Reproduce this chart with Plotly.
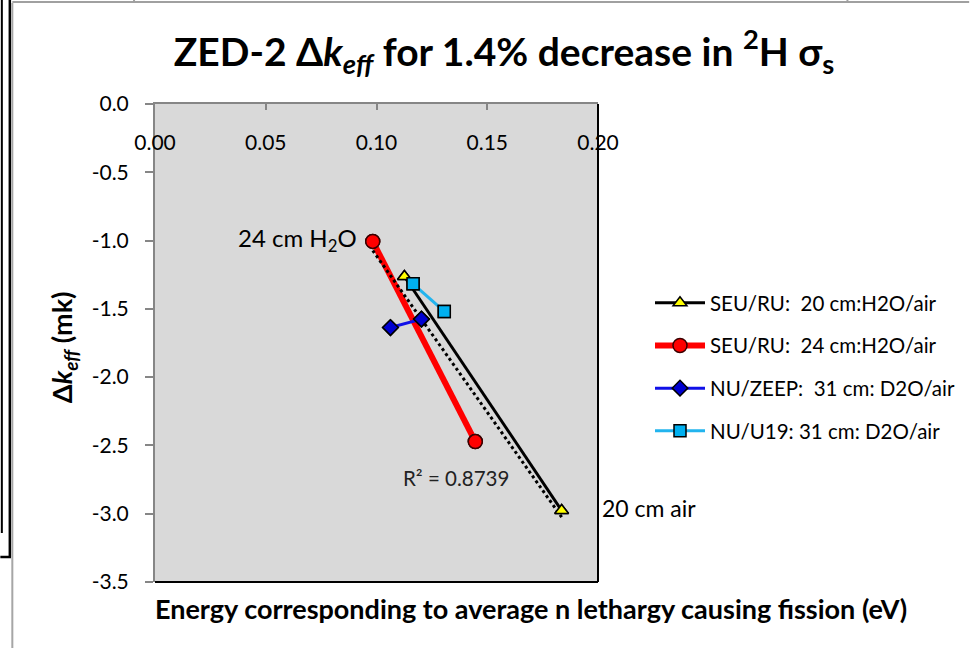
import numpy as np
import plotly.graph_objects as go

# Energy (eV) and delta k_eff (mk) for each core configuration
x_seu20 = [0.1126, 0.1836]
y_seu20 = [-1.263, -2.977]
x_seu24 = [0.0983, 0.1446]
y_seu24 = [-1.006, -2.472]
x_zeep = [0.1063, 0.1203]
y_zeep = [-1.637, -1.575]
x_u19 = [0.1165, 0.1306]
y_u19 = [-1.317, -1.519]

names = [
    "SEU/RU:  20 cm:H2O/air",
    "SEU/RU:  24 cm:H2O/air",
    "NU/ZEEP:  31 cm: D2O/air",
    "NU/U19: 31 cm: D2O/air",
]

x_ticks = [0.00, 0.05, 0.10, 0.15, 0.20]
y_ticks = [0.0, -0.5, -1.0, -1.5, -2.0, -2.5, -3.0, -3.5]
r2_text = "R² = 0.8739"

W, H = 971, 648
ML, MR, MT, MB = 155, 372, 104, 66
PW, PH = W - ML - MR, H - MT - MB


def px(xp):
    return (xp - ML) / PW


def py(yp):
    return (H - MB - yp) / PH


FONT = "Lato, Carlito, 'Open Sans', sans-serif"

fig = go.Figure()

series = [
    (x_seu20, y_seu20, names[0], "black", 3,
     dict(symbol="triangle-up", size=12, color="#FFFF00", line=dict(color="black", width=1.5))),
    (x_seu24, y_seu24, names[1], "#FF0000", 6,
     dict(symbol="circle", size=14, color="#FF0000", line=dict(color="#3a0000", width=1.5))),
    (x_zeep, y_zeep, names[2], "#1010E8", 3,
     dict(symbol="diamond", size=12, color="#0000D0", line=dict(color="black", width=1.5))),
    (x_u19, y_u19, names[3], "#22B4EE", 3,
     dict(symbol="square", size=12, color="#00B0F0", line=dict(color="black", width=1.5))),
]

for i, (xs, ys, nm, col, lw, mk) in enumerate(series):
    fig.add_trace(go.Scatter(
        x=xs, y=ys, name=nm, mode="lines+markers",
        line=dict(color=col, width=lw), marker=mk,
        legendgroup=str(i),
    ))

# Linear trendline through every point
all_x = np.array(x_seu20 + x_seu24 + x_zeep + x_u19)
all_y = np.array(y_seu20 + y_seu24 + y_zeep + y_u19)
slope, intercept = np.polyfit(all_x, all_y, 1)
tx = np.array([all_x.min(), all_x.max()])
fig.add_trace(go.Scatter(
    x=tx, y=slope * tx + intercept, mode="lines",
    line=dict(color="black", width=3, dash="dot"),
    showlegend=False, hoverinfo="skip",
))

# Re-draw the points on top of the trendline
for xs, ys, nm, col, lw, mk in series:
    fig.add_trace(go.Scatter(x=xs, y=ys, mode="markers", marker=mk,
                             showlegend=False, hoverinfo="skip"))

annotations = [
    dict(x=x_seu24[0], y=y_seu24[0], xref="x", yref="y", text="24 cm H<sub>2</sub>O",
         showarrow=False, xanchor="right", yanchor="middle", xshift=-14, yshift=2,
         font=dict(size=24, color="black", family=FONT)),
    dict(x=x_seu20[1], y=y_seu20[1], xref="x", yref="y", text="20 cm air",
         showarrow=False, xanchor="left", yanchor="middle", xshift=38, yshift=3,
         font=dict(size=23, color="black", family=FONT)),
    dict(x=px(457), y=py(478), xref="paper", yref="paper", text=r2_text,
         showarrow=False, xanchor="center", yanchor="middle",
         font=dict(size=20.5, color="#222", family=FONT)),
    dict(x=px(532), y=py(608), xref="paper", yref="paper",
         text="<b>Energy corresponding to average n lethargy causing fission (eV)</b>",
         showarrow=False, xanchor="center", yanchor="middle",
         font=dict(size=27, color="black", family=FONT)),
    dict(x=px(63), y=py(347), xref="paper", yref="paper",
         text="<b>Δ<i>k<sub>eff</sub></i> (mk)</b>", textangle=-90,
         showarrow=False, xanchor="center", yanchor="middle",
         font=dict(size=27, color="black", family=FONT)),
]

shapes = [
    # plot area right and bottom borders
    dict(type="line", xref="paper", yref="paper", x0=1, x1=1, y0=0, y1=1,
         line=dict(color="black", width=2)),
    dict(type="line", xref="paper", yref="paper", x0=0, x1=1, y0=0, y1=0,
         line=dict(color="black", width=2)),
    # surrounding page frame
    dict(type="line", xref="paper", yref="paper", x0=px(12), x1=px(971), y0=py(2), y1=py(2),
         line=dict(color="#A0A0A0", width=2)),
    dict(type="line", xref="paper", yref="paper", x0=px(134), x1=px(134), y0=py(0), y1=py(3),
         line=dict(color="#A0A0A0", width=2)),
    dict(type="line", xref="paper", yref="paper", x0=px(849), x1=px(849), y0=py(0), y1=py(3),
         line=dict(color="#A0A0A0", width=2)),
    dict(type="line", xref="paper", yref="paper", x0=px(1.5), x1=px(1.5), y0=py(0), y1=py(533),
         line=dict(color="black", width=2)),
    dict(type="line", xref="paper", yref="paper", x0=px(9.5), x1=px(9.5), y0=py(0), y1=py(557),
         line=dict(color="black", width=2.5)),
    dict(type="line", xref="paper", yref="paper", x0=px(0), x1=px(10.7), y0=py(557), y1=py(557),
         line=dict(color="black", width=2.5)),
    dict(type="line", xref="paper", yref="paper", x0=px(12), x1=px(12), y0=py(3), y1=py(648),
         line=dict(color="#A6A6A6", width=2)),
]

fig.update_layout(
    width=W, height=H,
    margin=dict(l=ML, r=MR, t=MT, b=MB, pad=0),
    paper_bgcolor="white", plot_bgcolor="#D9D9D9",
    font=dict(family=FONT, color="black", size=20),
    title=dict(
        text="<b>ZED-2 Δ<i>k<sub>eff</sub></i> for 1.4% decrease in <sup>2</sup>H σ<sub>s</sub></b>",
        x=504 / W, xref="container", xanchor="center",
        y=1 - 52 / H, yref="container", yanchor="middle",
        font=dict(size=39, family=FONT, color="black"),
    ),
    xaxis=dict(
        range=[0, 0.2], side="top", showgrid=False, zeroline=False,
        showline=True, linecolor="#868686", linewidth=2,
        tickvals=x_ticks, ticktext=[f"{v:.2f}" for v in x_ticks],
        ticks="inside", ticklen=6, tickcolor="#868686", tickwidth=2,
        ticklabelposition="inside", ticklabelstandoff=27, ticklabeloverflow="allow",
        tickfont=dict(size=21, family=FONT, color="black"),
    ),
    yaxis=dict(
        range=[-3.5, 0], showgrid=False, zeroline=False,
        showline=True, linecolor="#868686", linewidth=2,
        tickvals=y_ticks, ticktext=[f"{v:.1f}" for v in y_ticks],
        ticks="outside", ticklen=8, tickcolor="#868686", tickwidth=2,
        ticklabelstandoff=12,
        tickfont=dict(size=21, family=FONT, color="black"),
    ),
    legend=dict(
        x=px(650), y=py(283), xanchor="left", yanchor="top",
        bgcolor="rgba(0,0,0,0)", itemwidth=50,
        traceorder="grouped", tracegroupgap=13,
        font=dict(size=20.5, family=FONT, color="black"),
    ),
    annotations=annotations,
    shapes=shapes,
    showlegend=True,
)

fig.write_html("out.html")
